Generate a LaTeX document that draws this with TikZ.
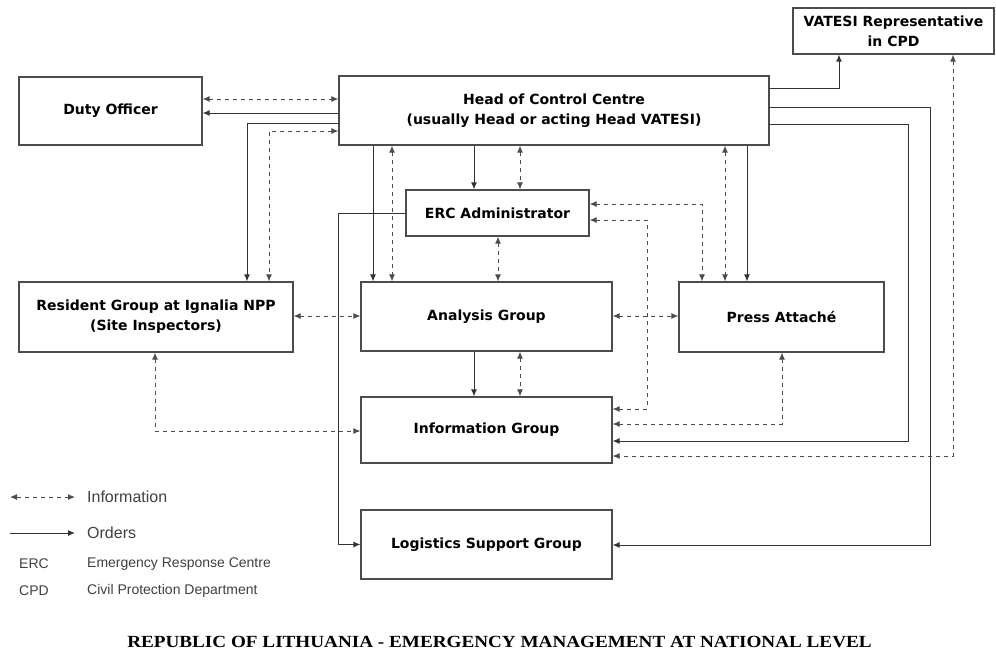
\documentclass[tikz,border=0pt]{standalone}
\usepackage{fontspec}
\usepackage{graphicx}
\setmainfont{DejaVu Sans}
\newfontfamily\legfont{Liberation Sans}
\newfontfamily\titlefont{Liberation Serif}
\usetikzlibrary{arrows.meta}
\tikzset{
  box/.style={draw=black!70, line width=1.2pt, fill=white, align=center, inner sep=0pt,
    font=\bfseries\fontsize{14}{20}\selectfont},
  ord/.style={draw=black!80, line width=1pt, -{Latex[length=7pt,width=6pt]}},
  inf/.style={draw=black!70, line width=1pt, dash pattern=on 4pt off 4pt,
    {Latex[length=7pt,width=6pt]}-{Latex[length=7pt,width=6pt]}},
  legbig/.style={font=\legfont\fontsize{16}{18}\selectfont, text=black!75, anchor=west, inner sep=0pt},
  legsmall/.style={font=\legfont\fontsize{14}{16}\selectfont, text=black!75, anchor=west, inner sep=0pt}
}
\begin{document}
\begin{tikzpicture}[x=1pt,y=-1pt]
\fill[white] (0,0) rectangle (996,654);
\useasboundingbox (0,0) rectangle (996,654);

% boxes
\node[box, minimum width=183pt, minimum height=68pt] (duty) at (110.5,111) {Duty Officer};
\node[box, minimum width=430pt, minimum height=69pt] (head) at (554,110.5) {Head of Control Centre\\(usually Head or acting Head VATESI)};
\node[box, minimum width=201pt, minimum height=46pt] (vatesi) at (893.5,31) {VATESI Representative\\in CPD};
\node[box, minimum width=183pt, minimum height=46pt] (erc) at (497.5,213) {ERC Administrator};
\node[box, minimum width=251pt, minimum height=69pt] (analysis) at (486.5,316.5) {Analysis Group};
\node[box, minimum width=251pt, minimum height=66pt] (info) at (486.5,430) {Information Group};
\node[box, minimum width=205pt, minimum height=70pt] (press) at (781.5,317) {Press Attaché};
\node[box, minimum width=274pt, minimum height=70pt] (resident) at (156,317) {Resident Group at Ignalia NPP\\(Site Inspectors)};
\node[box, minimum width=251pt, minimum height=69pt] (logistics) at (486.5,544.5) {Logistics Support Group};

% connectors
\draw[inf] (duty.east |- 0,99) -- (head.west |- 0,99);
\draw[ord] (head.west |- 0,113) -- (duty.east |- 0,113);
\draw[ord] (head.west |- 0,123) -| (resident.north -| 247,0);
\draw[inf] (head.west |- 0,131) -| (resident.north -| 269,0);
\draw[ord] (head.south -| 373,0) -- (analysis.north -| 373,0);
\draw[inf] (head.south -| 392,0) -- (analysis.north -| 392,0);
\draw[ord] (head.south -| 474,0) -- (erc.north -| 474,0);
\draw[inf] (head.south -| 520,0) -- (erc.north -| 520,0);
\draw[inf] (erc.south -| 498,0) -- (analysis.north -| 498,0);
\draw[ord] (erc.west) -| (logistics.west -| 338,0) -- (logistics.west);
\draw[inf] (erc.east |- 0,204) -| (press.north -| 702,0);
\draw[inf] (erc.east |- 0,220) -| (647,409) -- (info.east |- 0,409);
\draw[inf] (head.south -| 725,0) -- (press.north -| 725,0);
\draw[ord] (head.south -| 747,0) -- (press.north -| 747,0);
\draw[inf] (analysis.east |- 0,316) -- (press.west |- 0,316);
\draw[inf] (resident.east |- 0,316) -- (analysis.west |- 0,316);
\draw[ord] (analysis.south -| 474,0) -- (info.north -| 474,0);
\draw[inf] (analysis.south -| 520,0) -- (info.north -| 520,0);
\draw[inf] (resident.south -| 155,0) |- (info.west |- 0,431);
\draw[inf] (press.south -| 782,0) |- (info.east |- 0,424);
\draw[ord] (head.east |- 0,124) -| (908,441) -- (info.east |- 0,441);
\draw[ord] (head.east |- 0,107) -| (930,545) -- (logistics.east |- 0,545);
\draw[ord] (head.east |- 0,88) -| (vatesi.south -| 839,0);
\draw[inf] (vatesi.south -| 953,0) |- (info.east |- 0,456);

% legend
\coordinate (li1) at (10,497);
\coordinate (li2) at (75,497);
\coordinate (lo1) at (10,533);
\coordinate (lo2) at (75,533);
\draw[inf] (li1) -- (li2);
\draw[ord] (lo1) -- (lo2);
\node[legbig] (linfo) at (87,497) {Information};
\node[legbig] (lord) at (87,533) {Orders};
\node[legsmall] (lerc) at (19,564) {ERC};
\node[legsmall] (lercd) at (87,564) {Emergency Response Centre};
\node[legsmall] (lcpd) at (19,591) {CPD};
\node[legsmall] (lcpdd) at (87,591) {Civil Protection Department};

% title
\node[font=\titlefont\bfseries\fontsize{17}{20}\selectfont, inner sep=0pt] (title) at (499.5,642)
  {\scalebox{1.127}[1]{REPUBLIC OF LITHUANIA - EMERGENCY MANAGEMENT AT NATIONAL LEVEL}};
\end{tikzpicture}
\end{document}
